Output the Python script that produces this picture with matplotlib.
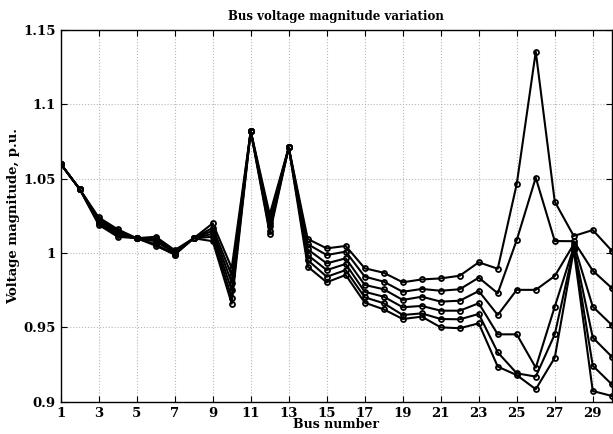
import numpy as np
import matplotlib
matplotlib.use('Agg')
import matplotlib.pyplot as plt

plt.rcParams['font.family'] = 'DejaVu Serif'
plt.rcParams['font.weight'] = 'bold'

buses = np.arange(1, 31)

# bus voltage profiles (p.u.) for the six cases
v1 = [1.060, 1.043, 1.024, 1.016, 1.010, 1.011, 1.002, 1.010, 1.020, 0.990,
      1.082, 1.026, 1.071, 1.0095, 1.0032, 1.0048, 0.9898, 0.9868, 0.9804, 0.9823,
      0.9830, 0.9848, 0.9938, 0.9895, 1.0465, 1.1354, 1.0346, 1.0115, 1.0155, 1.0016]
v2 = [1.060, 1.043, 1.023, 1.015, 1.010, 1.010, 1.001, 1.010, 1.017, 0.985,
      1.082, 1.023, 1.071, 1.0060, 0.9987, 1.0010, 0.9842, 0.9808, 0.9740, 0.9759,
      0.9747, 0.9757, 0.9835, 0.9730, 1.0088, 1.0507, 1.0081, 1.0080, 0.9882, 0.9765]
v3 = [1.060, 1.043, 1.022, 1.014, 1.010, 1.009, 1.000, 1.010, 1.015, 0.980,
      1.082, 1.020, 1.071, 1.0025, 0.9931, 0.9965, 0.9786, 0.9757, 0.9685, 0.9707,
      0.9674, 0.9680, 0.9745, 0.9584, 0.9753, 0.9753, 0.9846, 1.0060, 0.9640, 0.9517]
v4 = [1.060, 1.043, 1.021, 1.013, 1.010, 1.008, 1.000, 1.010, 1.013, 0.975,
      1.082, 1.018, 1.071, 0.9987, 0.9886, 0.9927, 0.9740, 0.9707, 0.9636, 0.9645,
      0.9613, 0.9613, 0.9663, 0.9454, 0.9454, 0.9230, 0.9640, 1.0040, 0.9432, 0.9304]
v5 = [1.060, 1.043, 1.020, 1.012, 1.010, 1.006, 0.999, 1.010, 1.011, 0.970,
      1.082, 1.015, 1.071, 0.9953, 0.9841, 0.9886, 0.9703, 0.9663, 0.9584, 0.9595,
      0.9557, 0.9555, 0.9591, 0.9333, 0.9192, 0.9170, 0.9454, 1.0030, 0.9243, 0.9118]
v6 = [1.060, 1.043, 1.019, 1.011, 1.010, 1.005, 0.999, 1.010, 1.008, 0.966,
      1.082, 1.013, 1.071, 0.9909, 0.9804, 0.9853, 0.9667, 0.9622, 0.9557, 0.9573,
      0.9501, 0.9495, 0.9528, 0.9237, 0.9180, 0.9085, 0.9297, 1.0020, 0.9073, 0.9040]

fig = plt.figure(figsize=(6.13, 4.34), dpi=100)
ax = fig.add_axes([0.099, 0.074, 0.899, 0.857])

for v in [v1, v2, v3, v4, v5, v6]:
    ax.plot(buses, v, color='black', lw=1.5, marker='o', ms=3.6,
            mfc='none', mec='black', mew=1.3)

ax.set_xlim(1, 30)
ax.set_ylim(0.9, 1.15)
ax.set_xticks(np.arange(1, 30, 2))
ax.set_yticks([0.9, 0.95, 1.0, 1.05, 1.1, 1.15])
ax.set_yticklabels(['0.9', '0.95', '1', '1.05', '1.1', '1.15'])
ax.grid(True, linestyle=':', color='#b8b8b8', lw=0.8)
ax.tick_params(direction='in', top=True, right=True, labelsize=9.5, length=4)
for s in ax.spines.values():
    s.set_linewidth(1.0)

ax.set_title('Bus voltage magnitude variation', fontsize=8.5, fontweight='bold', pad=7)
ax.set_xlabel('Bus number', fontsize=9, fontweight='bold', labelpad=-1)
ax.set_ylabel('Voltage magnitude, p.u.', fontsize=9.5, fontweight='bold', labelpad=2)

fig.savefig('out.png', dpi=100)
